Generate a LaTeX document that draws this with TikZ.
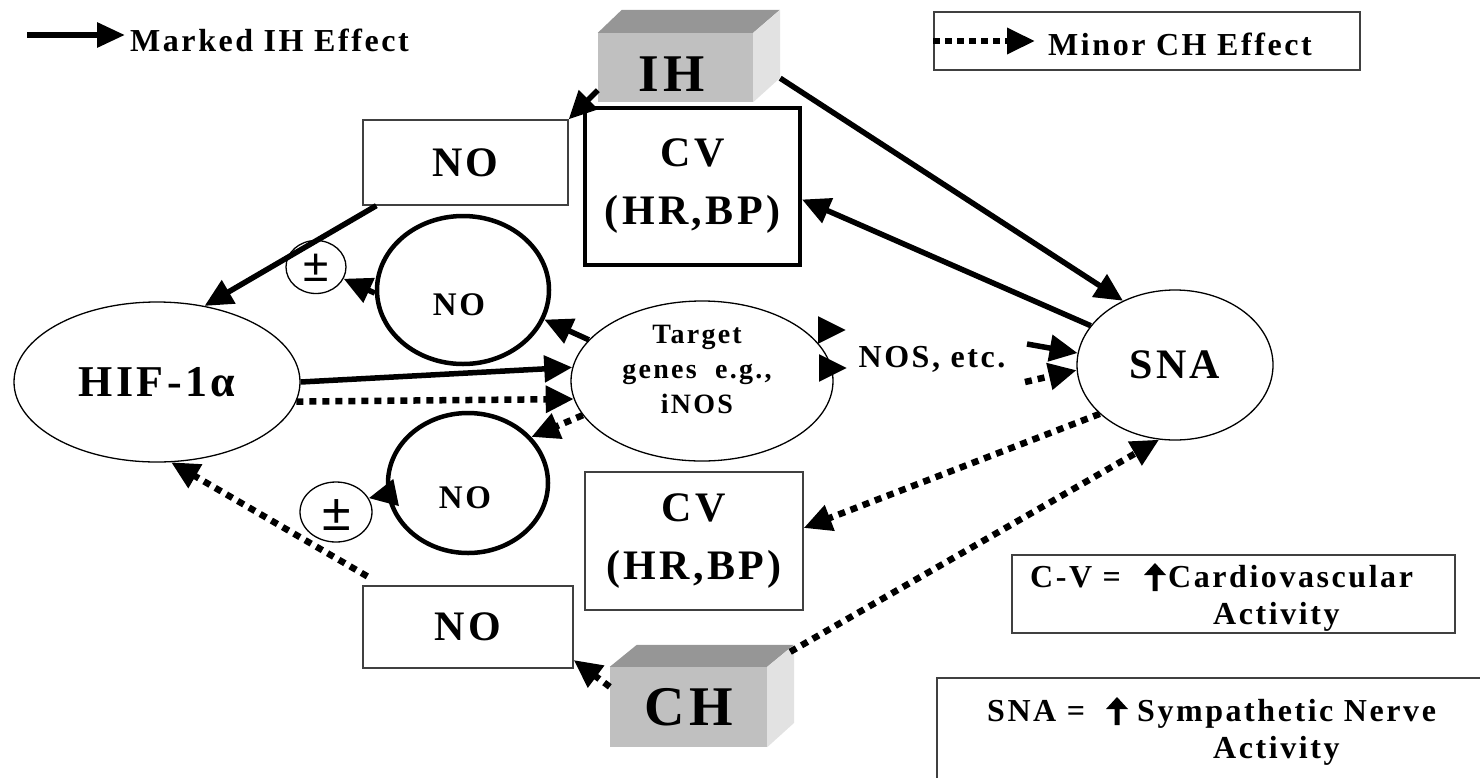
\documentclass[tikz,border=0pt]{standalone}
\usepackage{fontspec}
\setmainfont{Liberation Serif}
\newfontfamily\lsf{Liberation Serif}[LetterSpace=8]
\newfontfamily\pmf{Liberation Sans}
\usetikzlibrary{arrows.meta,calc,shapes.geometric}
\definecolor{frontgray}{HTML}{C0C0C0}
\definecolor{topgray}{HTML}{969696}
\definecolor{sidegray}{HTML}{E2E2E2}
\definecolor{boxline}{HTML}{404040}
\newcommand\myuparrow[2]{\fill (#1,#2) ++(-2.5,4) -- ++(0,-16) -- ++(-8.5,0) -- ++(11,-12) -- ++(11,12) -- ++(-8.5,0) -- ++(0,16) -- cycle;}
\tikzset{
  fs/.style={font=\lsf\bfseries\fontsize{#1}{#1}\selectfont},
  txt/.style={inner sep=0pt},
  thinbox/.style={draw=boxline, line width=1.3pt, rectangle, inner sep=0pt},
  heavybox/.style={draw=black, line width=4pt, rectangle, inner sep=0pt},
  thinell/.style={ellipse, draw=black, line width=1.3pt, inner sep=0pt},
  heavyell/.style={ellipse, draw=black, line width=4.5pt, inner sep=0pt},
  solidarr/.style={line width=5.5pt, -{Triangle[length=28pt,width=26pt]}},
  dotarr/.style={line width=6.5pt, dash pattern=on 7pt off 6pt, -{Triangle[length=28pt,width=26pt]}},
  legsolid/.style={line width=6pt, -{Triangle[length=28pt,width=24pt]}},
  legdot/.style={line width=6.5pt, dash pattern=on 7pt off 5pt, -{Triangle[length=28pt,width=25pt]}},
}
\begin{document}
\begin{tikzpicture}[x=1pt,y=-1pt]
\useasboundingbox (0,0) rectangle (1480,777);

% ---------- 3D blocks ----------
\node[fill=frontgray, minimum width=155pt, minimum height=69pt, inner sep=0pt] (IH) at (675.5,67.5) {};
\fill[topgray] (IH.north west) -- ++(24,-23) -- ++(158,0) -- (IH.north east) -- cycle;
\fill[sidegray] (IH.north east) -- ++(27,-23) -- ++(0,68) -- (IH.south east) -- cycle;
\node[txt, fs=53] (IHt) at (672,74) {IH};

\node[fill=frontgray, minimum width=157pt, minimum height=80pt, inner sep=0pt, fs=56] (CH) at (688.5,707) {CH};
\fill[topgray] (CH.north west) -- ++(27,-22) -- ++(157,0) -- (CH.north east) -- cycle;
\fill[sidegray] (CH.north east) -- ++(27,-22) -- ++(0,78) -- (CH.south east) -- cycle;

% ---------- boxes ----------
\node[thinbox, minimum width=205pt, minimum height=85pt, fs=42] (NOa) at (465.5,162.5) {NO};
\node[thinbox, minimum width=210pt, minimum height=82pt, fs=42] (NOb) at (468,627) {NO};
\node[heavybox, minimum width=215pt, minimum height=157pt, align=center,
      font=\lsf\bfseries\fontsize{42}{58}\selectfont] (CVa) at (692.5,186.5) {CV\\(HR,BP)};
\node[thinbox, minimum width=218pt, minimum height=138pt, align=center,
      font=\lsf\bfseries\fontsize{42}{58}\selectfont] (CVb) at (694,541) {CV\\(HR,BP)};

% ---------- ellipses ----------
\node[thinell, minimum width=286pt, minimum height=160pt, fs=44] (HIF) at (157,382) {HIF-1α};
\node[thinell, minimum width=262pt, minimum height=160pt] (tg) at (702,381) {};
\node[txt, align=center, font=\lsf\bfseries\fontsize{28}{35}\selectfont] (tgt) at (697,369) {Target\\genes\ \ e.g.,\\iNOS};
\node[thinell, minimum width=196pt, minimum height=150pt, fs=42] (SNA) at (1175,365) {SNA};
\node[heavyell, minimum width=172pt, minimum height=148pt] (NO1) at (463,290) {};
\node[txt, fs=33] (NO1t) at (459,305) {NO};
\node[heavyell, minimum width=160pt, minimum height=140pt] (NO2) at (468,483) {};
\node[txt, fs=33] (NO2t) at (465,498) {NO};

% plus/minus circles
\node[thinell, minimum width=60pt, minimum height=53pt] (pm1) at (316,267) {};
\node[txt, font=\pmf\fontsize{46}{46}\selectfont] (pm1t) at (316,268) {±};
\node[thinell, minimum width=72pt, minimum height=60pt] (pm2) at (336,512) {};
\node[txt, font=\pmf\fontsize{52}{52}\selectfont] (pm2t) at (337,515) {±};

\node[txt, fs=32, anchor=base] (NOS) at (932,367) {NOS, etc.};

% ---------- connectors ----------
\draw[solidarr] ([yshift=12pt]IH.south west) -- (NOa.north east);
\coordinate (IHs) at ($(IH.south east)+(27,-24)$);
\draw[solidarr] (IHs) -- (SNA.129);
\draw[solidarr] (SNA.155) -- ([yshift=-13pt]CVa.east);
\draw[solidarr] ([xshift=14pt]NOa.south west) -- (HIF.58);
\draw[solidarr] (NO1.182) -- (pm1.337);
\draw[solidarr] (NO2.188) -- (pm2.23);
\draw[solidarr] (HIF.east) -- (tg.174);
\draw[dotarr] (HIF.352) -- (tg.188);
\draw[solidarr] (tg.160) -- (NO1.340);
\draw[dotarr] (tg.196) -- (NO2.36);
\coordinate (g1) at (818,330); \coordinate (g1e) at (846,330);
\coordinate (g2) at (819,368); \coordinate (g2e) at (847,368);
\draw[solidarr] (g1) -- (g1e);
\draw[solidarr] (g2) -- (g2e);
\coordinate (n1) at (1027,344);
\draw[solidarr] (n1) -- (SNA.173);
\coordinate (n2) at (1025,382);
\draw[dotarr] (n2) -- (SNA.183);
\draw[dotarr] (SNA.213) -- ([yshift=13pt]CVb.east);
\coordinate (CHs) at ($(CH.north east)+(23,-15)$);
\draw[dotarr] (CHs) -- (SNA.258);
\draw[dotarr] ([yshift=-20pt]CH.north west) -- ([yshift=-33pt]NOb.east);
\draw[dotarr] ([xshift=5pt,yshift=9pt]NOb.north west) -- (HIF.280);

% ---------- legends ----------
\coordinate (l1s) at (27,35); \coordinate (l1e) at (125,35);
\draw[legsolid] (l1s) -- (l1e);
\node[txt, fs=32, anchor=base west] (l1t) at (130,51) {Marked IH Effect};

\node[thinbox, minimum width=426pt, minimum height=58pt] (leg2) at (1147,41) {};
\coordinate (l2e) at (1035,41);
\draw[legdot] (leg2.west) -- (l2e);
\node[txt, fs=32, anchor=base west] (l2t) at (1048,55) {Minor CH Effect};

\node[thinbox, minimum width=443pt, minimum height=78pt] (leg3) at (1233.5,594) {};
\node[txt, fs=32, anchor=base west] (l3a) at (1030,587) {C-V =};
\myuparrow{1155}{587}
\node[txt, fs=32, anchor=base west] (l3b) at (1168,587) {Cardiovascular};
\node[txt, fs=32, anchor=base west] (l3c) at (1213,624) {Activity};

\draw[draw=boxline, line width=1.3pt] (937,790) -- (937,678) -- (1490,678);
\node[txt, fs=32, anchor=base west] (l4a) at (987,721) {SNA =};
\myuparrow{1117}{721}
\node[txt, fs=32, anchor=base west] (l4b) at (1137,721) {Sympathetic Nerve};
\node[txt, fs=32, anchor=base west] (l4c) at (1213,758) {Activity};
\end{tikzpicture}
\end{document}
